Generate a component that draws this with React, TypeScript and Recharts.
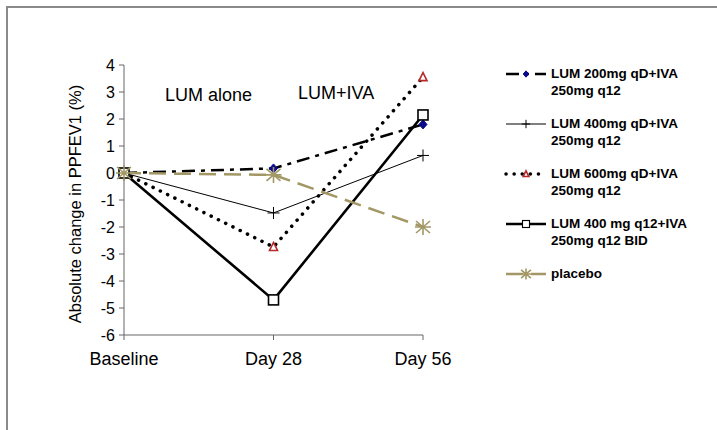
import { LineChart, Line, XAxis, YAxis, Legend } from 'recharts';

const categories = ['Baseline', 'Day 28', 'Day 56'];
const lum200qd = [0, 0.17, 1.8];
const lum400qd = [0, -1.48, 0.65];
const lum600qd = [0, -2.74, 3.55];
const lum400q12 = [0, -4.7, 2.15];
const placebo = [0, -0.07, -2.0];
const yTicks = [-6, -5, -4, -3, -2, -1, 0, 1, 2, 3, 4];

const data = categories.map((day, i) => ({
  day,
  lum200qd: lum200qd[i],
  lum400qd: lum400qd[i],
  lum600qd: lum600qd[i],
  lum400q12: lum400q12[i],
  placebo: placebo[i],
}));

const FONT = '"Liberation Sans", Arial, sans-serif';
const KHAKI = '#a39865';
const NAVY = '#0a0a8c';
const DARK_RED = '#b42828';

type MarkerProps = { cx: number; cy: number; k?: number };

const Diamond = ({ cx, cy, k = 1 }: MarkerProps) => (
  <path d={`M${cx},${cy - 4.5 * k}L${cx + 4 * k},${cy}L${cx},${cy + 4.5 * k}L${cx - 4 * k},${cy}Z`} fill={NAVY} stroke={NAVY} />
);

const Plus = ({ cx, cy, k = 1 }: MarkerProps) => (
  <path d={`M${cx - 6 * k},${cy}H${cx + 6 * k}M${cx},${cy - 6 * k}V${cy + 6 * k}`} stroke="#000" strokeWidth={1} fill="none" />
);

const Triangle = ({ cx, cy, k = 1 }: MarkerProps) => (
  <path
    d={`M${cx},${cy - 4.5 * k}L${cx + 4 * k},${cy + 3.5 * k}L${cx - 4 * k},${cy + 3.5 * k}Z`}
    fill="#fff"
    stroke={DARK_RED}
    strokeWidth={1.6}
  />
);

const Square = ({ cx, cy, k = 1 }: MarkerProps) => (
  <rect x={cx - 5 * k} y={cy - 5 * k} width={10 * k} height={10 * k} fill="#fff" stroke="#000" strokeWidth={1.6 * k} />
);

const Star = ({ cx, cy, k = 1 }: MarkerProps) => (
  <path
    d={`M${cx - 7 * k},${cy - 6 * k}L${cx + 7 * k},${cy + 6 * k}M${cx - 7 * k},${cy + 6 * k}L${cx + 7 * k},${cy - 6 * k}M${cx},${cy - 8 * k}V${cy + 8 * k}M${cx - 8 * k},${cy}H${cx + 8 * k}`}
    stroke={KHAKI}
    strokeWidth={1.6}
    fill="none"
  />
);

const series = [
  { key: 'lum200qd', name: ['LUM 200mg qD+IVA', '250mg q12'], stroke: '#000', width: 2.5, dash: '13 6 4 6', cap: 'butt', Marker: Diamond },
  { key: 'lum400qd', name: ['LUM 400mg qD+IVA', '250mg q12'], stroke: '#000', width: 1, dash: undefined, cap: 'butt', Marker: Plus },
  { key: 'lum600qd', name: ['LUM 600mg qD+IVA', '250mg q12'], stroke: '#000', width: 3.5, dash: '0.1 8', cap: 'round', Marker: Triangle },
  { key: 'lum400q12', name: ['LUM 400 mg q12+IVA', '250mg q12 BID'], stroke: '#000', width: 2.6, dash: undefined, cap: 'butt', Marker: Square },
  { key: 'placebo', name: ['placebo'], stroke: KHAKI, width: 2.5, dash: '17 8', cap: 'butt', Marker: Star },
];

const LegendBox = () => (
  <div style={{ width: 210, fontFamily: FONT, fontWeight: 'bold', fontSize: 13.5, lineHeight: '16.5px', color: '#000' }}>
    {series.map((s) => (
      <div key={s.key} style={{ display: 'flex', alignItems: 'flex-start', height: 50 }}>
        <svg width={46} height={16} style={{ flex: 'none' }}>
          <line x1={4} y1={8} x2={44} y2={8} stroke={s.stroke} strokeWidth={s.width} strokeDasharray={s.dash} strokeLinecap={s.cap as any} />
          <s.Marker cx={24} cy={8} k={0.7} />
        </svg>
        <div style={{ marginLeft: 3 }}>
          {s.name.map((line) => (
            <div key={line}>{line}</div>
          ))}
        </div>
      </div>
    ))}
  </div>
);

const noteStyle = { position: 'absolute' as const, fontFamily: FONT, fontSize: 18, lineHeight: '18px', color: '#000' };

export default function App() {
  return (
    <div style={{ position: 'fixed', left: 0, top: 0, width: 717, height: 430, background: '#fff', overflow: 'hidden' }}>
      <div
        style={{
          position: 'absolute',
          left: 6,
          top: 6,
          width: 720,
          height: 430,
          borderTop: '2px solid #8a8a8a',
          borderLeft: '2px solid #8a8a8a',
        }}
      />
      <div style={{ position: 'absolute', left: 8, top: 8 }}>
        <LineChart width={709} height={422} data={data} margin={{ top: 57, right: 84, bottom: 65, left: 0 }}>
          <XAxis
            dataKey="day"
            height={30}
            tickSize={5}
            tickMargin={12}
            stroke="#666"
            tick={{ fill: '#000', fontSize: 18, fontFamily: FONT }}
          />
          <YAxis
            domain={[-6, 4]}
            ticks={yTicks}
            width={116}
            tickSize={5}
            tickMargin={4}
            stroke="#666"
            interval={0}
            tick={{ fill: '#000', fontSize: 16, fontFamily: FONT }}
            label={{
              value: 'Absolute change in PPFEV1 (%)',
              angle: -90,
              position: 'center',
              dx: 9,
              dy: 4,
              style: { fill: '#000', fontSize: 16.5, fontFamily: FONT, textAnchor: 'middle' },
            }}
          />
          {series.map((s) => (
            <Line
              key={s.key}
              dataKey={s.key}
              type="linear"
              stroke={s.stroke}
              strokeWidth={s.width}
              strokeDasharray={s.dash}
              strokeLinecap={s.cap as any}
              isAnimationActive={false}
              dot={(p: any) => <s.Marker key={`${s.key}-${p.index}`} cx={p.cx} cy={p.cy} />}
              activeDot={false}
            />
          ))}
          <Legend
            layout="vertical"
            align="right"
            verticalAlign="top"
            content={() => <LegendBox />}
            wrapperStyle={{ position: 'absolute', left: 494, top: 58, width: 210 }}
          />
        </LineChart>
        <div style={{ ...noteStyle, left: 157, top: 78 }}>LUM alone</div>
        <div style={{ ...noteStyle, left: 290, top: 76 }}>LUM+IVA</div>
      </div>
    </div>
  );
}
